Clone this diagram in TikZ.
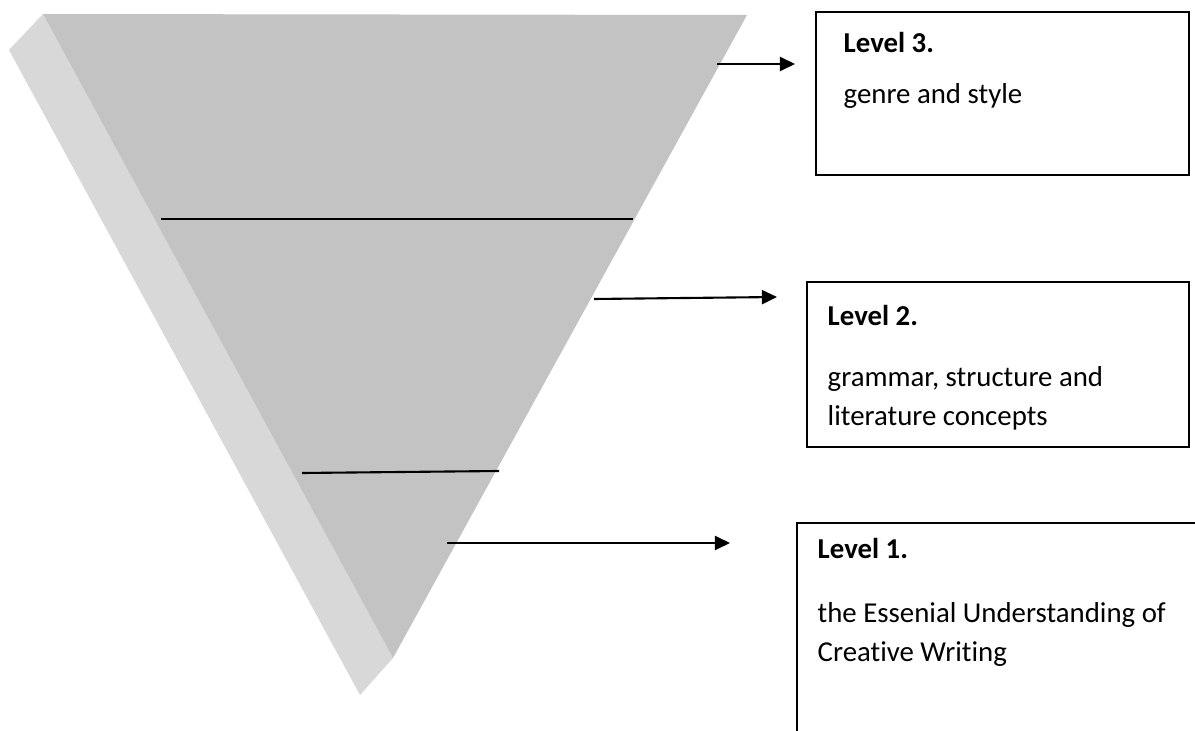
\documentclass[tikz,border=0pt]{standalone}
\usepackage{fontspec}
\setmainfont{Carlito}[Ligatures=NoCommon]
\usetikzlibrary{arrows.meta, positioning, calc}
\definecolor{funnelface}{RGB}{195,195,195}
\definecolor{funnelside}{RGB}{216,216,216}

\begin{document}
\begin{tikzpicture}[
        font=\fontsize{8.2}{10.9}\selectfont,
        >={Triangle[length=4.3pt, width=4pt]},
        level/.style={draw, line width=0.6pt, anchor=north west, inner sep=0pt},
        txt/.style={align=left, anchor=north west, inner sep=0pt},
        arrow/.style={->, line width=0.6pt},
        divider/.style={line width=0.6pt}
    ]
        \clip (0,0) rectangle (11.95,7.30);

        % funnel and its shaded side
        \fill[funnelside] (0.43,7.16) -- (0.09,6.80) -- (3.60,0.35) -- (3.93,0.72) -- cycle;
        \fill[funnelface] (0.43,7.16) -- (7.47,7.15) -- (3.93,0.72) -- cycle;
        \draw[divider] (1.61,5.11) -- (6.33,5.11);
        \draw[divider] (3.02,2.57) -- (4.99,2.59);

        % level boxes
        \node[level, minimum width=3.73cm, minimum height=1.63cm] (box3) at (8.15,7.19) {};
        \node[level, minimum width=3.82cm, minimum height=1.65cm] (box2) at (8.06,4.49) {};
        \node[level, minimum width=4.60cm, minimum height=2.80cm] (box1) at (7.96,2.08) {};

        \node[txt] (text3) at ([xshift=0.28cm, yshift=-0.21cm]box3.north west) {%
            \textbf{Level 3.}\\[3.6pt]
            genre and style};
        \node[txt] (text2) at ([xshift=0.21cm, yshift=-0.24cm]box2.north west) {%
            \textbf{Level 2.}\\[6.4pt]
            grammar, structure and\\
            literature concepts};
        \node[txt] (text1) at ([xshift=0.21cm, yshift=-0.16cm]box1.north west) {%
            \textbf{Level 1.}\\[7.3pt]
            the Essenial Understanding of\\
            Creative Writing};

        % pointers from the funnel
        \coordinate (edge3) at (7.17,6.66);
        \coordinate (edge2) at (5.94,4.31);
        \coordinate (edge1) at (4.47,1.87);

        \draw[arrow] (edge3) -- ($(box3.west |- edge3)+(-0.20,0)$);
        \draw[arrow] (edge2) -- ($(box2.west |- edge2)+(-0.29,0.02)$);
        \draw[arrow] (edge1) -- ($(box1.west |- edge1)+(-0.66,0)$);
    \end{tikzpicture}
\end{document}
